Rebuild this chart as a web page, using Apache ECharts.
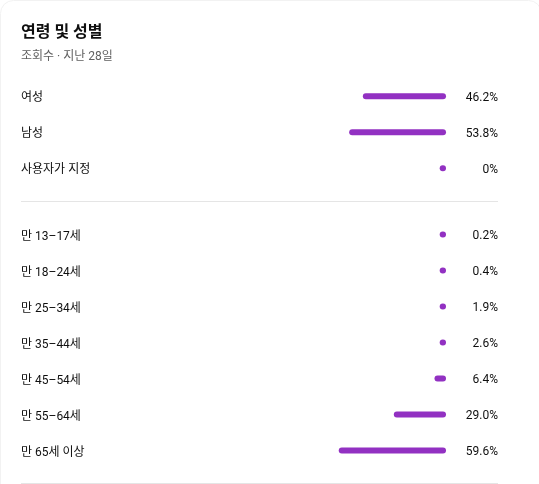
<!DOCTYPE html>
<html>
<head>
<meta charset="utf-8">
<script src="https://cdn.jsdelivr.net/npm/echarts@6/dist/echarts.min.js"></script>
<style>
  html, body { margin: 0; padding: 0; background: #ffffff; }
  #chart { width: 539px; height: 484px; }
</style>
</head>
<body>
<div id="chart"></div>
<script>
const titleText = '연령 및 성별';
const subtitleText = '조회수 · 지난 28일';

const genderCategories = ['여성', '남성', '사용자가 지정'];
const genderValues = [46.2, 53.8, 0];

const ageCategories = ['만 13–17세', '만 18–24세', '만 25–34세', '만 35–44세', '만 45–54세', '만 55–64세', '만 65세 이상'];
const ageValues = [0.2, 0.4, 1.9, 2.6, 6.4, 29.0, 59.6];

const BAR_COLOR = '#9231c2';
const FONT = 'Roboto, "Noto Sans CJK KR", sans-serif';

function fmtPct(v) { return v === 0 ? '0%' : v.toFixed(1) + '%'; }

const chart = echarts.init(document.getElementById('chart'), null, { renderer: 'canvas' });

function renderBar(params, api) {
  const v = api.value(0);
  const cat = api.value(1);
  const p0 = api.coord([0, cat]);
  const p1 = api.coord([v, cat]);
  const len = Math.max(Math.abs(p0[0] - p1[0]), 6.3);
  return {
    type: 'rect',
    shape: { x: p0[0] - len, y: p0[1] - 3, width: len, height: 6, r: 3 },
    style: { fill: BAR_COLOR }
  };
}

function yAxesFor(gridIndex, cats, vals) {
  return [
    {
      type: 'category', gridIndex: gridIndex, data: cats, inverse: true,
      axisLine: { show: false }, axisTick: { show: false }, splitLine: { show: false },
      axisLabel: {
        align: 'left', margin: 245, fontSize: 12, fontFamily: FONT,
        formatter: function (v) { return '{t|' + v + '}'; },
        rich: { t: { color: '#0f0f0f', fontSize: 12, fontFamily: FONT, lineHeight: 16, padding: [4, 0, 0, 0] } }
      }
    },
    {
      type: 'category', gridIndex: gridIndex, data: vals.map(fmtPct), inverse: true, position: 'right',
      axisLine: { show: false }, axisTick: { show: false }, splitLine: { show: false },
      axisLabel: {
        align: 'right', margin: 52, fontSize: 12, fontFamily: FONT,
        formatter: function (v) { return '{t|' + v + '}'; },
        rich: { t: { color: '#0f0f0f', fontSize: 12, fontFamily: FONT, lineHeight: 16, padding: [3, 0, 0, 0] } }
      }
    }
  ];
}

const option = {
  backgroundColor: '#ffffff',
  animation: false,
  title: {
    text: titleText,
    subtext: subtitleText,
    left: 21, top: 23,
    padding: 0,
    itemGap: 6,
    textStyle: { fontSize: 16, fontWeight: 'bold', color: '#0f0f0f', fontFamily: FONT, lineHeight: 20 },
    subtextStyle: { fontSize: 12, color: '#606060', fontFamily: FONT, lineHeight: 16 }
  },
  grid: [
    { left: 266, right: 93, top: 78.3, height: 108 },
    { left: 266, right: 93, top: 216.5, height: 252 }
  ],
  xAxis: [
    { type: 'value', gridIndex: 0, min: 0, max: 100, inverse: true, show: false },
    { type: 'value', gridIndex: 1, min: 0, max: 100, inverse: true, show: false }
  ],
  yAxis: [].concat(yAxesFor(0, genderCategories, genderValues), yAxesFor(1, ageCategories, ageValues)),
  series: [
    {
      type: 'custom', xAxisIndex: 0, yAxisIndex: 0,
      data: genderValues.map((v, i) => [v, i]),
      encode: { x: 0, y: 1 },
      renderItem: renderBar
    },
    {
      type: 'custom', xAxisIndex: 1, yAxisIndex: 2,
      data: ageValues.map((v, i) => [v, i]),
      encode: { x: 0, y: 1 },
      renderItem: renderBar
    }
  ],
  graphic: [
    {
      type: 'rect', silent: true, z: -1,
      shape: { x: 0.5, y: 0.5, width: 541, height: 520, r: 13 },
      style: { fill: 'none', stroke: '#f2f2f2', lineWidth: 1 }
    },
    {
      type: 'line', silent: true,
      shape: { x1: 21, y1: 201.5, x2: 498, y2: 201.5 },
      style: { stroke: '#e5e5e5', lineWidth: 1 }
    },
    {
      type: 'line', silent: true,
      shape: { x1: 21, y1: 483.5, x2: 498, y2: 483.5 },
      style: { stroke: '#e5e5e5', lineWidth: 1 }
    }
  ]
};

chart.setOption(option);
</script>
</body>
</html>
